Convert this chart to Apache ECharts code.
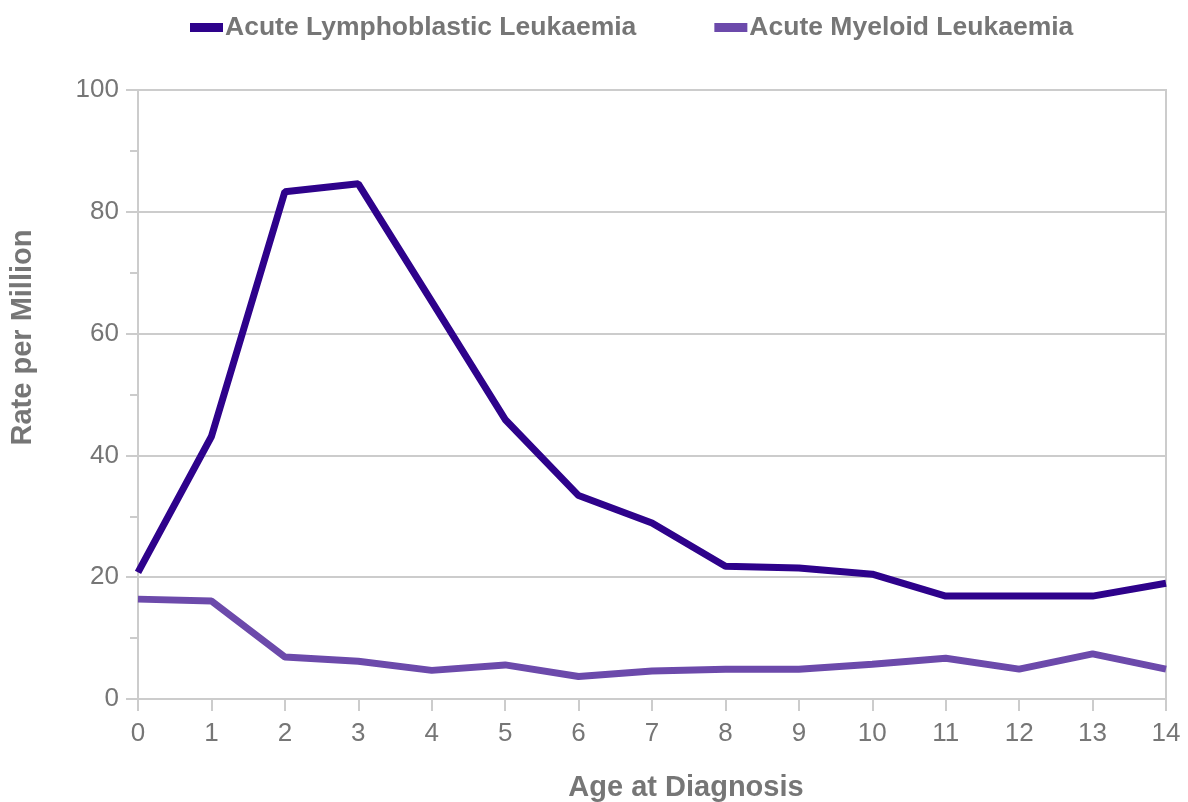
<!DOCTYPE html>
<html>
<head>
<meta charset="utf-8">
<script src="https://cdn.jsdelivr.net/npm/echarts@6/dist/echarts.min.js"></script>
<style>
html, body { margin: 0; padding: 0; background: #fff; }
#main { width: 1188px; height: 802px; }
</style>
</head>
<body>
<div id="main"></div>
<script>
// ages 0-14
var ages = ['0','1','2','3','4','5','6','7','8','9','10','11','12','13','14']
// rate per million
var allRates = [20.8, 43.1, 83.3, 84.6, 65.3, 45.9, 33.4, 28.9, 21.8, 21.5, 20.5, 16.9, 16.9, 16.9, 19.0]
var amlRates = [16.4, 16.1, 6.9, 6.2, 4.7, 5.6, 3.7, 4.6, 4.9, 4.9, 5.7, 6.7, 4.9, 7.4, 4.9]
var seriesNames = ['Acute Lymphoblastic Leukaemia', 'Acute Myeloid Leukaemia']

var font = 'Liberation Sans, Arial, sans-serif'
var grey = '#767676'
var lineGrey = '#cccccc'
var chart = echarts.init(document.getElementById('main'))
var option = {
    animation: false,
    color: ['#2e028b', '#6c4aab'],
    legend: {
        data: seriesNames,
        left: 190,
        top: 14,
        padding: 0,
        icon: 'rect',
        itemWidth: 33,
        itemHeight: 9,
        itemGap: 78,
        textStyle: {
            fontFamily: font,
            fontSize: 26.5,
            fontWeight: 'bold',
            color: grey,
            padding: [0, 0, 0, -3]
        }
    },
    grid: {
        left: 138,
        right: 22,
        top: 90,
        bottom: 103,
        outerBoundsMode: 'none',
        show: true,
        borderColor: lineGrey,
        borderWidth: 2
    },
    xAxis: {
        type: 'category',
        data: ages,
        boundaryGap: false,
        name: 'Age at Diagnosis',
        nameLocation: 'middle',
        nameGap: 74,
        nameTextStyle: {
            fontFamily: font,
            fontSize: 29,
            fontWeight: 'bold',
            color: grey,
            padding: [0, 0, 0, 68]
        },
        axisLine: { lineStyle: { color: lineGrey, width: 2 } },
        axisTick: { show: true, length: 12, lineStyle: { color: lineGrey, width: 2 } },
        axisLabel: {
            interval: 0,
            margin: 22,
            fontFamily: font,
            fontSize: 26,
            color: grey
        },
        splitLine: { show: false }
    },
    yAxis: {
        type: 'value',
        min: 0,
        max: 100,
        interval: 20,
        name: 'Rate per Million',
        nameLocation: 'middle',
        nameGap: 101,
        nameTextStyle: {
            fontFamily: font,
            fontSize: 29,
            fontWeight: 'bold',
            color: grey,
            padding: [0, 0, 0, 114]
        },
        axisLine: { show: true, lineStyle: { color: lineGrey, width: 2 } },
        axisTick: { show: true, length: 12, lineStyle: { color: lineGrey, width: 2 } },
        minorTick: { show: true, splitNumber: 2, length: 8, lineStyle: { color: lineGrey, width: 2 } },
        axisLabel: {
            margin: 19,
            fontFamily: font,
            fontSize: 26,
            color: grey
        },
        splitLine: { show: true, lineStyle: { color: lineGrey, width: 2 } }
    },
    series: [
        {
            name: seriesNames[0],
            type: 'line',
            data: allRates,
            symbol: 'none',
            lineStyle: { width: 7 }
        },
        {
            name: seriesNames[1],
            type: 'line',
            data: amlRates,
            symbol: 'none',
            lineStyle: { width: 7 }
        }
    ]
}
chart.setOption(option)
</script>
</body>
</html>
